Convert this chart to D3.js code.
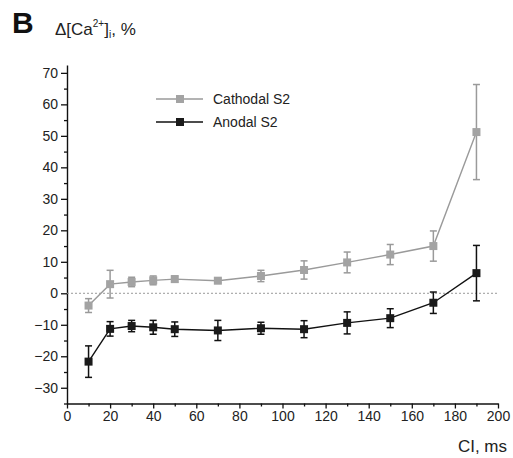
<!DOCTYPE html>
<html>
<head>
<meta charset="utf-8">
<script src="https://cdn.jsdelivr.net/npm/d3@7"></script>
<style>
  body { margin: 0; background: #fff; }
  svg text { font-family: Arial, 'Liberation Sans', sans-serif; }
</style>
</head>
<body>
<div id="chart"></div>
<script>
// data
const ci = [10, 20, 30, 40, 50, 70, 90, 110, 130, 150, 170, 190]
const cathodal = [-3.9, 2.9, 3.6, 4.1, 4.5, 4.0, 5.5, 7.4, 9.8, 12.3, 15.0, 51.2]
const cathodalErr = [2.2, 4.4, 1.5, 1.4, 1.0, 0.7, 1.8, 2.9, 3.3, 3.2, 4.8, 15.1]
const anodal = [-21.7, -11.3, -10.4, -10.8, -11.4, -11.8, -11.1, -11.4, -9.4, -7.9, -3.0, 6.4]
const anodalErr = [5.0, 2.3, 1.8, 2.2, 2.3, 3.2, 1.9, 2.7, 3.5, 3.0, 3.4, 8.8]
const xTicks = [0, 20, 40, 60, 80, 100, 120, 140, 160, 180, 200]
const yTicks = [-30, -20, -10, 0, 10, 20, 30, 40, 50, 60, 70]

const series = [
  { name: 'Cathodal S2', y: cathodal, err: cathodalErr, color: '#9a9a9a', fill: '#a3a3a3' },
  { name: 'Anodal S2', y: anodal, err: anodalErr, color: '#111', fill: '#1a1a1a' },
]

const W = 513, H = 458
const svg = d3.select('#chart').append('svg').attr('width', W).attr('height', H)

const x = d3.scaleLinear().domain([0, 200]).range([67, 498])
const y = d3.scaleLinear().domain([-35, 72.5]).range([403.5, 65])

// axes
const xAxis = svg.append('g')
  .attr('transform', `translate(0, ${y(-35)})`)
  .call(d3.axisBottom(x).tickValues(xTicks).tickSize(5).tickSizeOuter(0).tickPadding(3))
xAxis.append('g').call(d3.axisBottom(x).tickValues(d3.range(10, 200, 20)).tickSize(3).tickFormat(''))
  .select('.domain').remove()

const yAxis = svg.append('g')
  .attr('transform', `translate(${x(0)}, 0)`)
  .call(d3.axisLeft(y).tickValues(yTicks).tickSize(6).tickSizeOuter(0).tickPadding(3))
yAxis.append('g').call(d3.axisLeft(y).tickValues(d3.range(-35, 72, 10)).tickSize(3).tickFormat(''))
  .select('.domain').remove()

svg.selectAll('.domain').attr('stroke', '#111').attr('stroke-width', 1.4)
svg.selectAll('.tick line').attr('stroke', '#111').attr('stroke-width', 1.3)
svg.selectAll('.tick text').attr('font-size', 14).attr('fill', '#222')
  .attr('font-family', 'Arial, Liberation Sans, sans-serif')

// zero reference
svg.append('line')
  .attr('x1', x(0)).attr('x2', x(200))
  .attr('y1', y(0)).attr('y2', y(0))
  .attr('stroke', '#999').attr('stroke-width', 1)
  .attr('stroke-dasharray', '2,2')

const line = d3.line().x((d) => x(d[0])).y((d) => y(d[1]))

series.forEach((s) => {
  const pts = ci.map((c, i) => [c, s.y[i], s.err[i]])
  const g = svg.append('g')
  g.append('path')
    .attr('d', line(pts))
    .attr('fill', 'none')
    .attr('stroke', s.color)
    .attr('stroke-width', 1.4)

  // error bars
  const eb = g.selectAll('.eb').data(pts).join('g')
  eb.append('line')
    .attr('x1', (d) => x(d[0])).attr('x2', (d) => x(d[0]))
    .attr('y1', (d) => y(d[1] - d[2])).attr('y2', (d) => y(d[1] + d[2]))
    .attr('stroke', s.color).attr('stroke-width', 1.5)
  ;[-1, 1].forEach((k) => {
    eb.append('line')
      .attr('x1', (d) => x(d[0]) - 3.5).attr('x2', (d) => x(d[0]) + 3.5)
      .attr('y1', (d) => y(d[1] + k * d[2])).attr('y2', (d) => y(d[1] + k * d[2]))
      .attr('stroke', s.color).attr('stroke-width', 1.5)
  })

  g.selectAll('rect').data(pts).join('rect')
    .attr('x', (d) => x(d[0]) - 4).attr('y', (d) => y(d[1]) - 4)
    .attr('width', 8).attr('height', 8)
    .attr('fill', s.fill)
})

// legend
series.forEach((s, i) => {
  const ly = 99 + i * 23
  const lg = svg.append('g')
  lg.append('line').attr('x1', 156).attr('x2', 203).attr('y1', ly).attr('y2', ly)
    .attr('stroke', s.color).attr('stroke-width', 1.4)
  lg.append('rect').attr('x', 176).attr('y', ly - 4).attr('width', 8).attr('height', 8)
    .attr('fill', s.fill)
  lg.append('text').attr('x', 213).attr('y', ly + 5).attr('font-size', 14)
    .attr('fill', '#222').text(s.name)
})

// titles
svg.append('text').attr('x', 12).attr('y', 33)
  .attr('font-size', 30).attr('font-weight', 'bold').attr('fill', '#111').text('B')

const yl = svg.append('text').attr('x', 55).attr('y', 35).attr('font-size', 17).attr('fill', '#222')
yl.append('tspan').text('Δ[Ca')
yl.append('tspan').attr('font-size', 10).attr('dy', -8).text('2+')
yl.append('tspan').attr('dy', 8).text(']')
yl.append('tspan').attr('font-size', 10).attr('dy', 3).text('i')
yl.append('tspan').attr('dy', -3).text(', %')

svg.append('text').attr('x', 507).attr('y', 452).attr('text-anchor', 'end')
  .attr('font-size', 17).attr('fill', '#222').text('CI, ms')
</script>
</body>
</html>
